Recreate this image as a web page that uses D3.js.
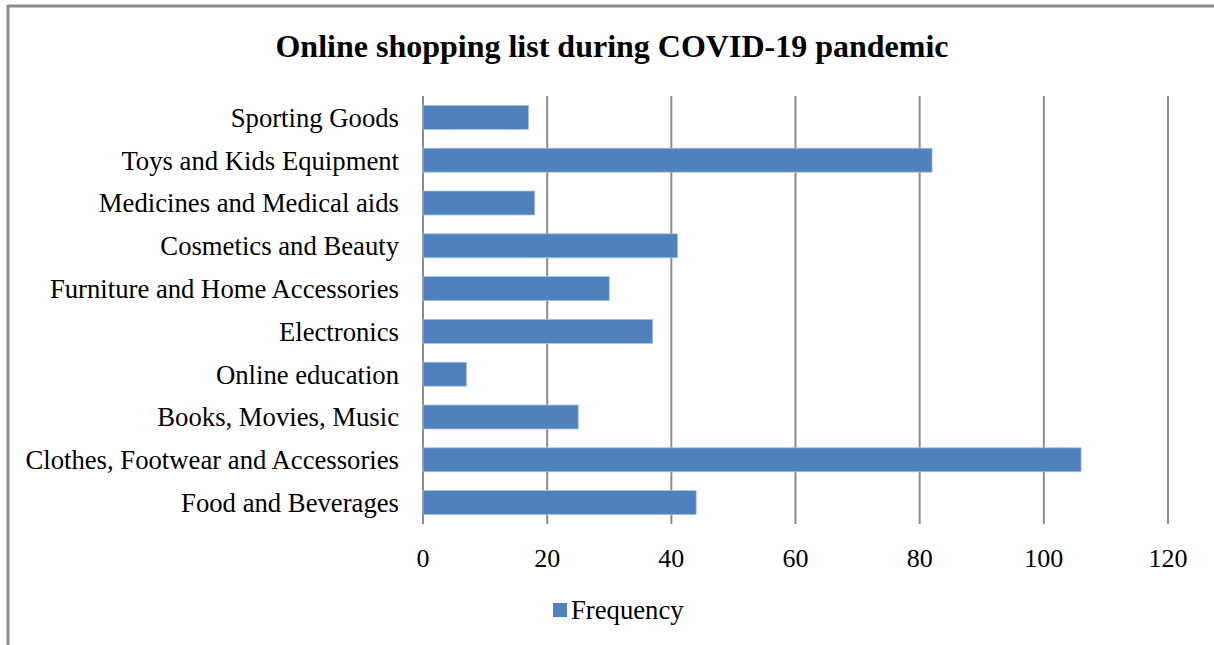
<!DOCTYPE html>
<html>
<head>
<meta charset="utf-8">
<script src="https://cdn.jsdelivr.net/npm/d3@7"></script>
<style>
  body { margin: 0; background: #fff; }
  text { font-family: "Liberation Serif", "Times New Roman", serif; fill: #000; }
</style>
</head>
<body>
<svg id="chart" width="1214" height="645"></svg>
<script>
var categories = ["Sporting Goods", "Toys and Kids Equipment", "Medicines and Medical aids",
    "Cosmetics and Beauty", "Furniture and Home Accessories", "Electronics",
    "Online education", "Books, Movies, Music", "Clothes, Footwear and Accessories",
    "Food and Beverages"]
var frequency = [17, 82, 18, 41, 30, 37, 7, 25, 106, 44]
var xTicks = [0, 20, 40, 60, 80, 100, 120]
var seriesName = "Frequency"

var svg = d3.select("#chart")
var barColor = "#4f81bd"
var gridColor = "#8c8c8c"

// frame (only top and left edges show in the picture)
svg.append("line").attr("x1", 8).attr("x2", 1214).attr("y1", 6).attr("y2", 6)
    .style("stroke", "#8c8c8c").style("stroke-width", 3)
svg.append("line").attr("x1", 8).attr("x2", 8).attr("y1", 5).attr("y2", 645)
    .style("stroke", "#8c8c8c").style("stroke-width", 3)

svg.append("text")
    .attr("x", 612).attr("y", 57)
    .attr("text-anchor", "middle")
    .style("font-size", "32px").style("font-weight", "bold")
    .text("Online shopping list during COVID-19 pandemic")

var plotLeft = 423, plotRight = 1168, plotTop = 96, plotBottom = 524

var x = d3.scaleLinear().domain([0, 120]).range([plotLeft, plotRight])
var y = d3.scaleBand().domain(categories).range([plotTop, plotBottom]).paddingInner(0.44).paddingOuter(0.22)

// vertical gridlines
svg.append("g").selectAll("line").data(xTicks).enter().append("line")
    .attr("x1", function(d) { return x(d) })
    .attr("x2", function(d) { return x(d) })
    .attr("y1", plotTop).attr("y2", plotBottom)
    .style("stroke", gridColor).style("stroke-width", 2)

// bars
svg.append("g").selectAll("rect").data(frequency).enter().append("rect")
    .attr("x", x(0))
    .attr("y", function(d, i) { return y(categories[i]) })
    .attr("width", function(d) { return x(d) - x(0) })
    .attr("height", y.bandwidth())
    .attr("fill", barColor)
    .style("stroke", "#a9c0dd").style("stroke-width", 0.8)

// category labels
svg.append("g").selectAll("text").data(categories).enter().append("text")
    .attr("x", 399)
    .attr("y", function(d) { return y(d) + y.bandwidth() / 2 })
    .attr("dy", "0.35em")
    .attr("text-anchor", "end")
    .style("font-size", "26.7px")
    .text(function(d) { return d })

// x tick labels
svg.append("g").selectAll("text").data(xTicks).enter().append("text")
    .attr("x", function(d) { return x(d) })
    .attr("y", 567)
    .attr("text-anchor", "middle")
    .style("font-size", "26px")
    .text(function(d) { return d })

// legend
svg.append("rect").attr("x", 553).attr("y", 603).attr("width", 14).attr("height", 14).attr("fill", barColor)
svg.append("text").attr("x", 571).attr("y", 619)
    .style("font-size", "26.7px")
    .text(seriesName)
</script>
</body>
</html>
